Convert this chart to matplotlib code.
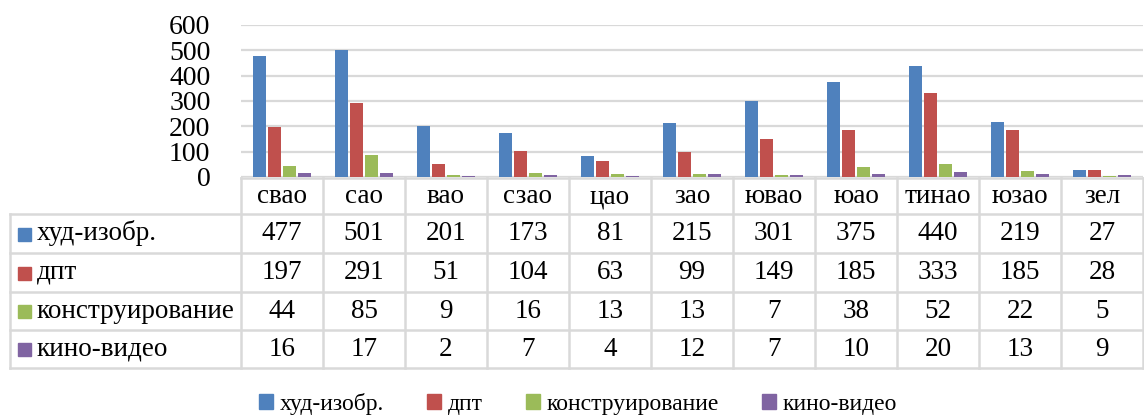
import matplotlib
matplotlib.use("Agg")
import matplotlib.pyplot as plt
from matplotlib.lines import Line2D
from matplotlib.patches import Rectangle
import numpy as np

categories = ["свао", "сао", "вао", "сзао", "цао", "зао", "ювао", "юао", "тинао", "юзао", "зел"]
series_names = ["худ-изобр.", "дпт", "конструирование", "кино-видео"]
hud_izobr = [477, 501, 201, 173, 81, 215, 301, 375, 440, 219, 27]
dpt = [197, 291, 51, 104, 63, 99, 149, 185, 333, 185, 28]
konstr = [44, 85, 9, 16, 13, 13, 7, 38, 52, 22, 5]
kino = [16, 17, 2, 7, 4, 12, 7, 10, 20, 13, 9]
yticks = [0, 100, 200, 300, 400, 500, 600]

series = [hud_izobr, dpt, konstr, kino]
colors = ["#4F81BD", "#C0504D", "#9BBB59", "#8064A2"]

plt.rcParams['font.family'] = ['Liberation Serif', 'DejaVu Serif']

W, H = 1144, 417
fig = plt.figure(figsize=(W / 100, H / 100), dpi=100)

def fx(x):
    return x / W

def fy(y):
    return 1 - y / H

# plot area in pixels
L, R, T, B = 241, 1143, 25, 177
ax = fig.add_axes([fx(L), fy(B), fx(R) - fx(L), fy(T) - fy(B)])
n = len(categories)
x = np.arange(n)
step = 0.183
width = 0.148
for i, (vals, c) in enumerate(zip(series, colors)):
    ax.bar(x + (i - 1.5) * step, vals, width=width, color=c, zorder=3)
ax.set_xlim(-0.5, n - 0.5)
ax.set_ylim(0, 600)
ax.set_yticks(yticks)
ax.set_yticklabels([str(v) for v in yticks], fontsize=20)
ax.set_xticks([])
ax.yaxis.grid(True, color="#D9D9D9", linewidth=1.6, zorder=0)
ax.tick_params(axis='y', length=0, pad=22)
for s in ax.spines.values():
    s.set_visible(False)

# data table
gc = "#D9D9D9"
lw = 1.8
row_y = [178, 214, 253, 292, 330, 368]
col_w = (R - L) / n
TL = 10

def hline(x0, x1, y):
    fig.add_artist(Line2D([fx(x0), fx(x1)], [fy(y), fy(y)], color=gc, lw=lw, transform=fig.transFigure))

def vline(x, y0, y1):
    fig.add_artist(Line2D([fx(x), fx(x)], [fy(y0), fy(y1)], color=gc, lw=lw, transform=fig.transFigure))

hline(L, R, row_y[0])
for y in row_y[1:]:
    hline(TL, R, y)
for j in range(n + 1):
    vline(L + j * col_w, row_y[0], row_y[-1])
vline(TL, row_y[1], row_y[-1])

fs = 19.5
for j, cat in enumerate(categories):
    cx = L + (j + 0.5) * col_w
    fig.text(fx(cx), fy((row_y[0] + row_y[1]) / 2 + 1), cat, ha='center', va='center', fontsize=fs)
    for i, vals in enumerate(series):
        cy = (row_y[i + 1] + row_y[i + 2]) / 2
        fig.text(fx(cx), fy(cy), str(vals[j]), ha='center', va='center', fontsize=fs)

for i, (name, c) in enumerate(zip(series_names, colors)):
    cy = (row_y[i + 1] + row_y[i + 2]) / 2
    fig.add_artist(Rectangle((fx(18), fy(cy + 7)), fx(13), fy(0) - fy(13), color=c, transform=fig.transFigure))
    fig.text(fx(37), fy(cy), name, ha='left', va='center', fontsize=fs)

# legend
handles = [Rectangle((0, 0), 1, 1, color=c) for c in colors]
fig.legend(handles, series_names, loc='center', bbox_to_anchor=(fx(578), fy(404)), ncol=4,
           frameon=False, fontsize=17, handlelength=0.6, handleheight=0.6, handletextpad=0.3,
           columnspacing=1.8)

fig.savefig("out.png", dpi=100)
